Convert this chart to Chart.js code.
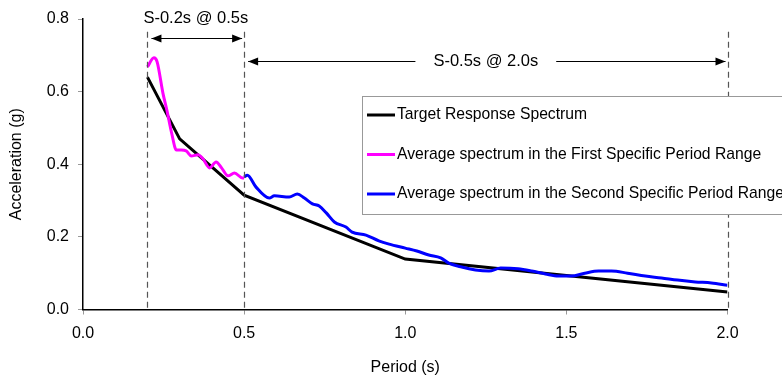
<!DOCTYPE html>
<html>
<head>
<meta charset="utf-8">
<script src="https://cdn.jsdelivr.net/npm/chart.js@4.4.1/dist/chart.umd.min.js"></script>
<style>
    html, body { margin: 0; padding: 0; background: #fff; }
    #chart-spectrum { display: block; }
</style>
</head>
<body>
<canvas id="chart-spectrum" width="782" height="382"></canvas>
<script>
// ===================== DATA =====================

const targetPeriods = [0.2, 0.3, 0.5, 1.0, 2.0];
const targetAccel   = [0.640, 0.470, 0.315, 0.139, 0.048];

const firstPeriods = [0.20, 0.22, 0.23, 0.248, 0.26, 0.275, 0.29, 0.305, 0.32, 0.336, 0.357,
                      0.372, 0.393, 0.413, 0.43, 0.45, 0.47, 0.495, 0.50];
const firstAccel   = [0.668, 0.693, 0.682, 0.596, 0.550, 0.486, 0.439, 0.439, 0.437, 0.423, 0.426,
                      0.415, 0.390, 0.406, 0.390, 0.368, 0.376, 0.362, 0.362];

const secondPeriods = [0.50, 0.51, 0.537, 0.578, 0.594, 0.64, 0.665, 0.687, 0.712, 0.733, 0.755,
                       0.78, 0.816, 0.835, 0.878, 0.918, 0.95, 1.0, 1.036, 1.073, 1.11, 1.135,
                       1.175, 1.218, 1.26, 1.296, 1.35, 1.392, 1.435, 1.475, 1.515, 1.557, 1.6,
                       1.64, 1.69, 1.745, 1.795, 1.845, 1.9, 1.95, 2.0];
const secondAccel   = [0.365, 0.370, 0.337, 0.307, 0.313, 0.310, 0.318, 0.307, 0.291, 0.285, 0.266,
                       0.241, 0.227, 0.213, 0.205, 0.189, 0.180, 0.169, 0.161, 0.150, 0.142, 0.128,
                       0.117, 0.109, 0.106, 0.114, 0.112, 0.106, 0.098, 0.092, 0.092, 0.100, 0.106,
                       0.106, 0.100, 0.092, 0.087, 0.081, 0.076, 0.073, 0.067];

const seriesLabels = [
    'Target Response Spectrum',
    'Average spectrum in the First Specific Period Range',
    'Average spectrum in the Second Specific Period Range'
];

// period ranges marked with dashed lines and arrows
const rangeStarts = [0.2, 0.5];
const rangeEnds   = [0.5, 2.0];
const rangeLabels = ['S-0.2s @ 0.5s', 'S-0.5s @ 2.0s'];

const xTicks = [0.0, 0.5, 1.0, 1.5, 2.0];
const yTicks = [0.0, 0.2, 0.4, 0.6, 0.8];

// ===================== HELPERS =====================

const FONT = "'Liberation Sans', Arial, sans-serif";
const toPoints = (xs, ys) => xs.map((x, i) => ({ x, y: ys[i] }));

function drawHead(ctx, x, y, dir) {
    ctx.beginPath();
    ctx.moveTo(x, y);
    ctx.lineTo(x - dir * 10, y - 4);
    ctx.lineTo(x - dir * 10, y + 4);
    ctx.closePath();
    ctx.fill();
}

// ===================== PLUGINS =====================

const rangeMarkers = {
    id: 'rangeMarkers',
    afterDatasetsDraw(chart, args, opts) {
        const { ctx, scales: { x, y } } = chart;
        ctx.save();

        // dashed vertical lines
        const marks = [...new Set([...rangeStarts, ...rangeEnds])];
        ctx.strokeStyle = '#555';
        ctx.lineWidth = 1.2;
        ctx.setLineDash([6, 4]);
        marks.forEach(p => {
            const px = Math.round(x.getPixelForValue(p)) + 0.5;
            ctx.beginPath();
            ctx.moveTo(px, y.getPixelForValue(opts.dashTop));
            ctx.lineTo(px, y.getPixelForValue(0));
            ctx.stroke();
        });
        ctx.setLineDash([]);

        // arrows + labels
        ctx.strokeStyle = '#000';
        ctx.fillStyle = '#000';
        ctx.lineWidth = 1;
        ctx.font = `16.5px ${FONT}`;
        ctx.textAlign = 'center';
        ctx.textBaseline = 'middle';
        rangeStarts.forEach((start, i) => {
            const x1 = x.getPixelForValue(start) + 4;
            const x2 = x.getPixelForValue(rangeEnds[i]) - 2;
            const py = Math.round(y.getPixelForValue(opts.arrowLevels[i])) + 0.5;
            const mid = x.getPixelForValue((start + rangeEnds[i]) / 2);
            ctx.beginPath();
            if (opts.inline[i]) {
                const half = ctx.measureText(rangeLabels[i]).width / 2 + 18;
                ctx.moveTo(x1, py); ctx.lineTo(mid - half, py);
                ctx.moveTo(mid + half, py); ctx.lineTo(x2, py);
                ctx.stroke();
                ctx.fillText(rangeLabels[i], mid, py);
            } else {
                ctx.moveTo(x1, py); ctx.lineTo(x2, py);
                ctx.stroke();
                ctx.fillText(rangeLabels[i], mid, py - 20);
            }
            drawHead(ctx, x1, py, -1);
            drawHead(ctx, x2, py, 1);
        });
        ctx.restore();
    }
};

const boxLegend = {
    id: 'boxLegend',
    afterDraw(chart, args, opts) {
        const { ctx } = chart;
        ctx.save();
        ctx.fillStyle = '#fff';
        ctx.fillRect(opts.left, opts.top, 500, opts.height);
        ctx.strokeStyle = '#999';
        ctx.lineWidth = 1;
        ctx.strokeRect(opts.left + 0.5, opts.top + 0.5, 500, opts.height);
        ctx.font = `15.7px ${FONT}`;
        ctx.textAlign = 'left';
        ctx.textBaseline = 'middle';
        chart.data.datasets.forEach((ds, i) => {
            const ry = opts.top + 19 + i * 39.5;
            ctx.strokeStyle = ds.borderColor;
            ctx.lineWidth = 3;
            ctx.beginPath();
            ctx.moveTo(opts.left + 5, ry);
            ctx.lineTo(opts.left + 33, ry);
            ctx.stroke();
            ctx.fillStyle = '#000';
            ctx.fillText(ds.label, opts.left + 35, ry);
        });
        ctx.restore();
    }
};

// ===================== CHART =====================

const tickFont = { family: FONT, size: 16 };

new Chart(document.getElementById('chart-spectrum'), {
    type: 'line',
    data: {
        datasets: [
            {
                label: seriesLabels[0],
                data: toPoints(targetPeriods, targetAccel),
                borderColor: '#000000',
                borderWidth: 3,
                tension: 0,
                order: 3
            },
            {
                label: seriesLabels[1],
                data: toPoints(firstPeriods, firstAccel),
                borderColor: '#ff00ff',
                borderWidth: 3,
                cubicInterpolationMode: 'monotone',
                order: 2
            },
            {
                label: seriesLabels[2],
                data: toPoints(secondPeriods, secondAccel),
                borderColor: '#0000ff',
                borderWidth: 3,
                cubicInterpolationMode: 'monotone',
                order: 1
            }
        ]
    },
    options: {
        responsive: false,
        animation: false,
        layout: { padding: { top: 19, right: 54.5, left: 0, bottom: 0 } },
        elements: { point: { radius: 0 } },
        plugins: {
            legend: { display: false },
            tooltip: { enabled: false },
            rangeMarkers: { dashTop: 0.765, arrowLevels: [0.748, 0.685], inline: [false, true] },
            boxLegend: { left: 362, top: 96, height: 118 }
        },
        scales: {
            x: {
                type: 'linear',
                min: 0, max: 2,
                afterBuildTicks: s => { s.ticks = xTicks.map(v => ({ value: v })); },
                afterFit: s => { s.height = 72.5; },
                ticks: { color: '#000', font: tickFont, padding: 9, maxRotation: 0,
                         callback: v => v.toFixed(1) },
                grid: { drawOnChartArea: false, tickLength: 5, color: '#999' },
                border: { color: '#000', width: 1.5 },
                title: { display: true, text: 'Period (s)', color: '#000', font: tickFont,
                         padding: { top: 4, bottom: 5 } }
            },
            y: {
                min: 0, max: 0.8,
                afterBuildTicks: s => { s.ticks = yTicks.map(v => ({ value: v })); },
                afterFit: s => { s.width = 83; },
                ticks: { color: '#000', font: tickFont, padding: 9,
                         callback: v => v.toFixed(1) },
                grid: { drawOnChartArea: false, tickLength: 5, color: '#999' },
                border: { color: '#000', width: 1.5 },
                title: { display: true, text: 'Acceleration (g)', color: '#000', font: tickFont,
                         padding: { top: 7, bottom: 4 } }
            }
        }
    },
    plugins: [rangeMarkers, boxLegend]
});
</script>
</body>
</html>
